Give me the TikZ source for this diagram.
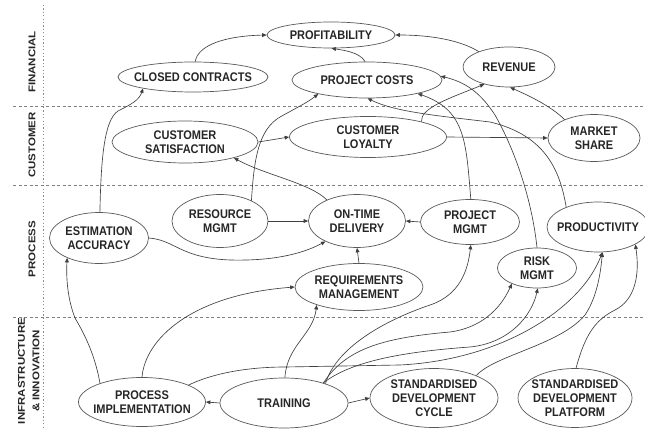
\documentclass[tikz,border=0pt]{standalone}
\usepackage{graphicx}
\usepackage{fontspec}
\newfontfamily\lab[FakeStretch=0.88]{Liberation Sans}
\newfontfamily\sidefont{Liberation Sans}
\usetikzlibrary{shapes.geometric,arrows.meta}
\begin{document}
\begin{tikzpicture}[x=1pt,y=-1pt,
  el/.style={draw=black!65, line width=0.7pt, ellipse, inner sep=0pt},
  lbl/.style={font={\lab\bfseries\fontsize{12.5pt}{14pt}\selectfont}, align=center, text=black!85, inner sep=0pt},
  con/.style={draw=black!75, line width=0.65pt, -{Triangle[length=4.5pt,width=3.8pt]}},
  sep/.style={draw=black!50, line width=0.6pt, dash pattern=on 3pt off 2.5pt},
  vsep/.style={draw=black!45, line width=0.6pt, dash pattern=on 1.2pt off 2.2pt},
  side/.style={rotate=90, font={\sidefont\bfseries\fontsize{11.5pt}{13pt}\selectfont}, text=black!85, inner sep=0pt}]
\fill[white] (0,0) rectangle (645,430);
\useasboundingbox (0,0) rectangle (645,430);

% separators
\draw[vsep] (43,5) -- (43,430);
\draw[sep] (13,106) -- (645,106);
\draw[sep] (13,185) -- (645,185);
\draw[sep] (13,317) -- (645,317);

% side labels
\node[side] (sfin) at (32,62) {\scalebox{1}[0.85]{FINANCIAL}};
\node[side] (scust) at (32,145) {\scalebox{1}[0.85]{CUSTOMER}};
\node[side] (sproc) at (32,249) {\scalebox{1}[0.85]{PROCESS}};
\node[side] (sinfra) at (30,371) {\scalebox{1}[0.85]{\begin{tabular}{@{}c@{}}INFRASTRUCTURE\\[4pt]\&\ INNOVATION\end{tabular}}};

% nodes
\node[el, minimum width=128, minimum height=26, label={[lbl]center:PROFITABILITY}] (profit) at (331,35) {};
\node[el, minimum width=150, minimum height=30, label={[lbl]center:CLOSED CONTRACTS}] (closed) at (193,77) {};
\node[el, minimum width=150, minimum height=36, label={[lbl]center:PROJECT COSTS}] (costs) at (367,80) {};
\node[el, minimum width=92, minimum height=40, label={[lbl]center:REVENUE}] (revenue) at (509,67) {};
\node[el, minimum width=146, minimum height=42, label={[lbl]center:CUSTOMER\\SATISFACTION}] (satisf) at (185,142) {};
\node[el, minimum width=157, minimum height=41, label={[lbl]center:CUSTOMER\\LOYALTY}] (loyalty) at (368,137) {};
\node[el, minimum width=92, minimum height=47, label={[lbl]center:MARKET\\SHARE}] (market) at (594,138) {};
\node[el, minimum width=99, minimum height=51, label={[lbl]center:ESTIMATION\\ACCURACY}] (estim) at (99,238) {};
\node[el, minimum width=96, minimum height=53, label={[lbl]center:RESOURCE\\MGMT}] (resource) at (220,221) {};
\node[el, minimum width=97, minimum height=53, label={[lbl]center:ON-TIME\\DELIVERY}] (ontime) at (357,221) {};
\node[el, minimum width=99, minimum height=45, label={[lbl]center:PROJECT\\MGMT}] (projmgmt) at (470,222) {};
\node[el, minimum width=102, minimum height=50, label={[lbl]center:PRODUCTIVITY}] (product) at (598,227) {};
\node[el, minimum width=79, minimum height=40, label={[lbl]center:RISK\\MGMT}] (risk) at (537,268) {};
\node[el, minimum width=128, minimum height=47, label={[lbl]center:REQUIREMENTS\\MANAGEMENT}] (require) at (359,287) {};
\node[el, minimum width=127, minimum height=49, label={[lbl]center:PROCESS\\IMPLEMENTATION}] (procimpl) at (142,402) {};
\node[el, minimum width=128, minimum height=50, label={[lbl]center:TRAINING}] (training) at (284,403) {};
\node[el, minimum width=128, minimum height=59, label={[lbl]center:STANDARDISED\\DEVELOPMENT\\CYCLE}] (cycle) at (434,398) {};
\node[el, minimum width=114, minimum height=59, label={[lbl]center:STANDARDISED\\DEVELOPMENT\\PLATFORM}] (platform) at (575,398) {};

% connectors - financial / customer
\draw[con] (closed.82) .. controls (198,45) and (225,36) .. (profit.180);
\draw[con] (revenue.153) .. controls (460,40) and (430,35) .. (profit.0);
\draw[con] (costs.96) .. controls (360,52) and (342,50) .. (profit.272);
\draw[con] (market.148) .. controls (550,105) and (525,94) .. (revenue.273);
\draw[con] (loyalty.east) -- (market.west);
\draw[con] (satisf.east) -- (loyalty.west);
\draw[con] (loyalty.16) .. controls (420,108) and (450,98) .. (revenue.215);
\draw[con] (estim.88) .. controls (101,160) and (104,120) .. (118,111) .. controls (132,104) and (139,100) .. (closed.193);
\draw[con] (resource.33) .. controls (254,160) and (258,130) .. (280,117) .. controls (300,106) and (308,102) .. (costs.196);
\draw[con] (projmgmt.88) .. controls (466,140) and (465,110) .. (costs.345);
\draw[con] (risk.90) .. controls (532,200) and (515,150) .. (495,115) .. controls (480,92) and (465,82) .. (costs.3);
\draw[con] (product.148) .. controls (560,170) and (545,135) .. (490,122) .. controls (440,116) and (395,112) .. (costs.272);

% process
\draw[con] (resource.east) -- (ontime.west);
\draw[con] (ontime.145) .. controls (310,183) and (265,175) .. (satisf.342);
\draw[con] (estim.0) .. controls (175,240) and (180,258) .. (230,260) .. controls (270,261) and (300,255) .. (ontime.213);
\draw[con] (projmgmt.west) -- (ontime.east);
\draw[con] (require.north) -- (ontime.south);

% infrastructure
\draw[con] (procimpl.156) .. controls (95,355) and (85,335) .. (75,318) .. controls (68,300) and (66,280) .. (estim.212);
\draw[con] (procimpl.90) .. controls (145,340) and (190,295) .. (require.180);
\draw[con] (training.88) .. controls (287,345) and (313,335) .. (require.203);
\draw[con] (training.west) -- (procimpl.east);
\draw[con] (training.east) -- (cycle.west);
\draw[con] (training.25) .. controls (335,350) and (380,322) .. (430,305) .. controls (460,295) and (468,270) .. (projmgmt.272);
\draw[con] (training.27) .. controls (345,350) and (380,338) .. (450,332) .. controls (480,328) and (500,310) .. (risk.212);
\draw[con] (training.27) .. controls (350,362) and (400,352) .. (470,347) .. controls (510,343) and (532,315) .. (risk.272);
\draw[con] (procimpl.20) .. controls (220,370) and (260,367) .. (285,367) -- (400,365) .. controls (500,360) and (580,310) .. (product.280);
\draw[con] (cycle.28) .. controls (495,355) and (560,345) .. (585,315) .. controls (595,300) and (600,280) .. (product.280);
\draw[con] (platform.88) .. controls (585,335) and (595,320) .. (615,310) .. controls (635,300) and (640,275) .. (product.335);
\end{tikzpicture}
\end{document}
